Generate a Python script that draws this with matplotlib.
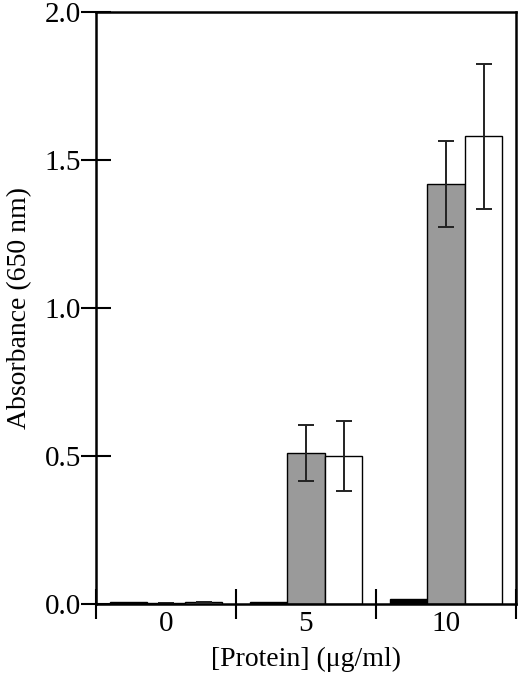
import numpy as np
import matplotlib
matplotlib.use('Agg')
import matplotlib.pyplot as plt
from matplotlib.ticker import FixedLocator, NullFormatter

plt.rcParams['font.family'] = ['Liberation Serif', 'DejaVu Serif']

groups = ['0', '5', '10']
black_vals = [0.006, 0.007, 0.018]
gray_vals = [0.004, 0.51, 1.42]
white_vals = [0.008, 0.50, 1.58]
gray_err = [0.0, 0.096, 0.145]
white_err = [0.0, 0.117, 0.245]

fig = plt.figure(figsize=(5.2, 6.74), dpi=100)
ax = fig.add_axes([0.1846, 0.1039, 0.8077, 0.8783])

x = np.arange(len(groups))
w = 0.268
ekw = dict(elinewidth=1.4, capthick=1.4, ecolor='#222222')
ax.bar(x - w, black_vals, w, color='black', edgecolor='black', linewidth=1)
ax.bar(x, gray_vals, w, color='#9a9a9a', edgecolor='black', linewidth=1,
       yerr=gray_err, capsize=5.5, error_kw=ekw)
ax.bar(x + w, white_vals, w, color='white', edgecolor='black', linewidth=1,
       yerr=white_err, capsize=5.5, error_kw=ekw)

ax.set_xlim(-0.5, 2.5)
ax.set_ylim(0, 2.0)

ax.set_yticks([0.0, 0.5, 1.0, 1.5, 2.0])
ax.set_yticklabels(['0.0', '0.5', '1.0', '1.5', '2.0'])
ax.xaxis.set_major_locator(FixedLocator([-0.5, 0.5, 1.5, 2.5]))
ax.xaxis.set_major_formatter(NullFormatter())
ax.xaxis.set_minor_locator(FixedLocator(x))
ax.set_xticklabels(groups, minor=True)

ax.tick_params(axis='y', direction='inout', length=21.5, width=1.5,
               labelsize=21, pad=0, right=False)
ax.tick_params(axis='x', which='major', direction='inout', length=22,
               width=1.5, top=False)
ax.tick_params(axis='x', which='minor', length=0, labelsize=21, pad=5)

for s in ax.spines.values():
    s.set_linewidth(1.8)

ax.set_ylabel('Absorbance (650 nm)', fontsize=20, labelpad=9)
ax.set_xlabel('[Protein] (\u03bcg/ml)', fontsize=20, labelpad=7)

fig.savefig('out.png', dpi=100)
